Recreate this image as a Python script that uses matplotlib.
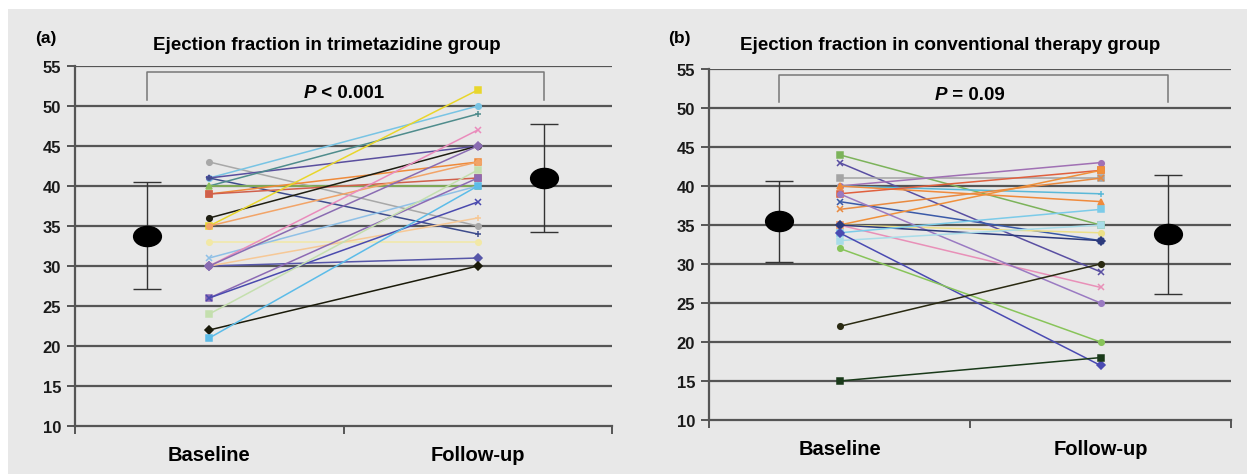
import matplotlib.pyplot as plt
from matplotlib.patches import Rectangle
from matplotlib.path import Path
from matplotlib.markers import MarkerStyle
import matplotlib.transforms as mtransforms

plt.rcParams['font.family'] = ['Liberation Sans', 'DejaVu Sans']

# Data
categories = ['Baseline', 'Follow-up']

# (a) trimetazidine group, one value pair per patient
tmz_baseline = [43, 41, 41, 41, 40, 40, 39, 39, 36, 35, 35, 33, 31, 30, 30, 30, 30, 26, 26, 24, 22, 21]
tmz_followup = [35, 50, 45, 34, 49, 40, 43, 41, 45, 52, 43, 33, 40, 47, 31, 36, 45, 41, 38, 42, 30, 40]
tmz_mean = [33.8, 41.0]
tmz_sd = [6.7, 6.8]
tmz_p = '< 0.001'

# (b) conventional therapy group
conv_baseline = [44, 43, 41, 40, 40, 40, 39, 38, 37, 35, 35, 35, 39, 35, 34, 33, 34, 32, 22, 15]
conv_followup = [35, 29, 41, 43, 39, 38, 42, 33, 41, 42, 34, 27, 25, 33, 37, 35, 17, 20, 30, 18]
conv_mean = [35.5, 33.8]
conv_sd = [5.2, 7.6]
conv_p = '= 0.09'

# styles
tmz_colors = ['#a8a8a8', '#78c4e4', '#5a4f9e', '#3e4c8c', '#4f8c8c', '#8cbf58', '#ef8a3a',
              '#d0604c', '#1e1e12', '#e8d62c', '#f2a468', '#f2e8a6', '#8fc0e6', '#ea8cbc',
              '#5656a8', '#f6c896', '#8a6cb2', '#8c6ab4', '#4a4aae', '#c4dfae', '#1a1a0a', '#5cbce8']
tmz_markers = ['o', 'o', '*', '+', '+', '^', 's', 's', 'o', 's', 'o', 'o', 'x', 'x',
               'D', '+', 'D', 's', 'x', 's', 'D', 's']
conv_colors = ['#7cb35a', '#5a4fa2', '#a4a4a4', '#a070b4', '#5ab8d8', '#f08a3c', '#e0603e',
               '#3a5aa8', '#e88a40', '#f0903a', '#ece088', '#e890b8', '#9a7ac2', '#2c3a7c',
               '#7ccbe8', '#a8dce8', '#4a4ab2', '#88c45a', '#2a2a12', '#1a3a1a']
conv_markers = ['s', 'x', 's', 'o', '+', '^', 's', 'x', 'x', 's', 'o', 'x', 'o', 'D',
                's', 's', 'D', 'o', 'o', 's']

bg = '#e8e8e8'
grid_c = '#555555'

fig = plt.figure(figsize=(12.47, 4.77), dpi=100)
fig.patches.append(Rectangle((8 / 1247, 2 / 477), 1, 465 / 477, transform=fig.transFigure,
                             facecolor=bg, edgecolor='none', zorder=-10))

# wide ellipse used for the group means
ell = Path.unit_circle().transformed(mtransforms.Affine2D().scale(1.38, 1.0))
mean_marker = MarkerStyle(ell)

p_labels = []


def draw_panel(ax, base, follow, colors, markers, mean, sd, ptext, bracket_x, title, letter,
               title_x, letter_x):
    ax.set_facecolor('none')
    ax.set_xlim(0, 4)
    ax.set_ylim(10, 55)
    for v in range(15, 60, 5):
        ax.axhline(v, color=grid_c, lw=1.6, zorder=1)
    for spine in ['top', 'right']:
        ax.spines[spine].set_visible(False)
    for spine in ['left', 'bottom']:
        ax.spines[spine].set_color(grid_c)
        ax.spines[spine].set_linewidth(1.6)

    xs = [1, 3]
    for b, f, c, m in zip(base, follow, colors, markers):
        ax.plot(xs, [b, f], color=c, lw=1.1, marker=m, ms=4, mew=1.1, zorder=3)

    # group means with error bars
    mx = [bracket_x[0], bracket_x[1]]
    ax.errorbar(mx, mean, yerr=sd, fmt='none', ecolor='#333333', elinewidth=1.0,
                capsize=10, capthick=1.0, zorder=4)
    ax.plot(mx, mean, ls='none', marker=mean_marker, ms=20, color='black', zorder=5)

    # significance bracket
    ax.plot([bracket_x[0], bracket_x[0], bracket_x[1], bracket_x[1]],
            [50.8, 54.2, 54.2, 50.8], color='#777777', lw=1.1, zorder=2)
    t1 = ax.text(2.0, 51.7, 'P', fontsize=13.5, fontweight='bold', fontstyle='italic',
                 ha='left', va='center')
    t2 = ax.text(2.0, 51.7, ' ' + ptext, fontsize=13.5, fontweight='bold',
                 ha='left', va='center')
    p_labels.append((ax, t1, t2))

    ax.set_yticks(range(10, 60, 5))
    ax.set_yticklabels([str(v) for v in range(10, 60, 5)], fontsize=12, fontweight='bold')
    ax.set_xticks([0, 2, 4])
    ax.set_xticklabels(['', '', ''])
    ax.set_xticks(xs, minor=True)
    ax.set_xticklabels(categories, minor=True, fontsize=14.5, fontweight='bold')
    ax.tick_params(axis='x', which='minor', length=0, pad=14)
    ax.tick_params(axis='both', which='major', direction='out', length=6, width=1.4,
                   color=grid_c, labelcolor='#1a1a1a')
    ax.tick_params(axis='y', pad=4)

    fig.text(title_x, 1 - 45 / 477, title, fontsize=13.5, fontweight='bold',
             ha='center', va='center')
    fig.text(letter_x, 1 - 38 / 477, letter, fontsize=12.5, fontweight='bold',
             ha='left', va='center')


ax1 = fig.add_axes([75 / 1247, 1 - 427 / 477, 537 / 1247, 360 / 477])
draw_panel(ax1, tmz_baseline, tmz_followup, tmz_colors, tmz_markers, tmz_mean, tmz_sd, tmz_p,
           (0.54, 3.49), 'Ejection fraction in trimetazidine group', '(a)',
           327 / 1247, 35 / 1247)

ax2 = fig.add_axes([709 / 1247, 1 - 421 / 477, 522 / 1247, 351 / 477])
draw_panel(ax2, conv_baseline, conv_followup, conv_colors, conv_markers, conv_mean, conv_sd,
           conv_p, (0.54, 3.52), 'Ejection fraction in conventional therapy group', '(b)',
           950 / 1247, 668 / 1247)

# centre the "P ..." labels as one piece of text over the middle tick
fig.canvas.draw()
renderer = fig.canvas.get_renderer()
for ax, t1, t2 in p_labels:
    w1 = t1.get_window_extent(renderer).width
    w2 = t2.get_window_extent(renderer).width
    cx = ax.transData.transform((2.0, 51.7))[0]
    inv = ax.transData.inverted()
    x_start = inv.transform((cx - (w1 + w2) / 2, 0))[0]
    x_second = inv.transform((cx - (w1 + w2) / 2 + w1, 0))[0]
    t1.set_x(x_start)
    t2.set_x(x_second)

plt.savefig('out.png', dpi=100)
